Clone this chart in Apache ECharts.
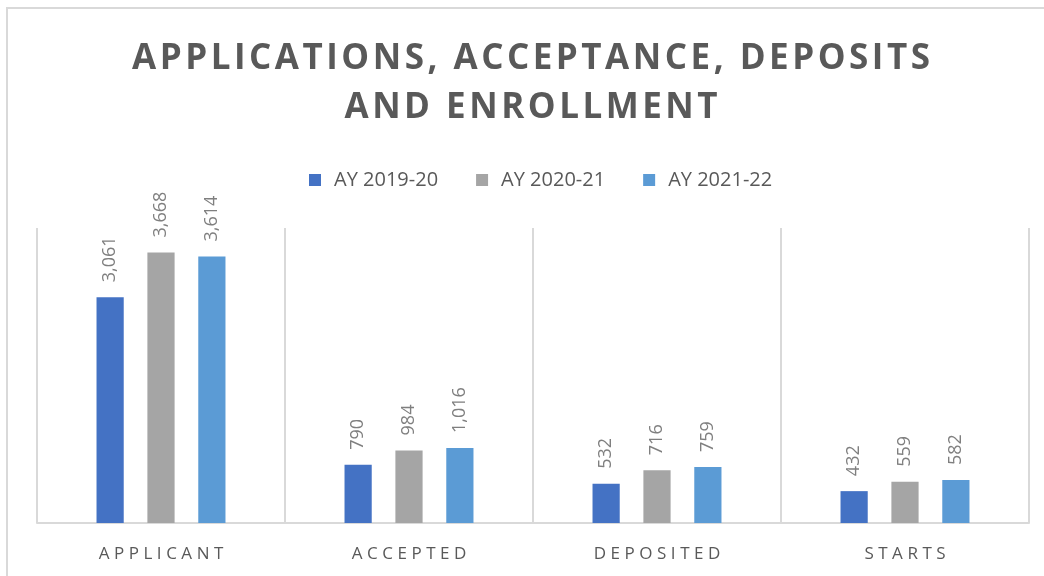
<!DOCTYPE html>
<html>
<head>
<meta charset="utf-8">
<script src="https://cdn.jsdelivr.net/npm/echarts@6/dist/echarts.min.js"></script>
<style>
  html, body { margin: 0; padding: 0; background: #fff; }
  #chart { width: 1044px; height: 576px; }
</style>
</head>
<body>
<div id="chart"></div>
<script>
const titleLines = ['APPLICATIONS, ACCEPTANCE, DEPOSITS', 'AND ENROLLMENT'];
const categories = ['APPLICANT', 'ACCEPTED', 'DEPOSITED', 'STARTS'];
const seriesNames = ['AY 2019-20', 'AY 2020-21', 'AY 2021-22'];
const ay1920 = [3061, 790, 532, 432];
const ay2021 = [3668, 984, 716, 559];
const ay2122 = [3614, 1016, 759, 582];
const colors = ['#4472C4', '#A5A5A5', '#5B9BD5'];

// canvas text has no letter-spacing, so pad letters with thin spaces
const spaced = (s, sp) => s.split('').join(sp);

const chart = echarts.init(document.getElementById('chart'));

function makeSeries(name, data, color) {
  return {
    name, type: 'bar', data,
    barGap: '87%', barCategoryGap: '48%',
    itemStyle: { color },
    label: {
      show: true, position: 'top', rotate: 90, distance: 15,
      align: 'left', verticalAlign: 'middle',
      color: '#7f7f7f', fontSize: 18, fontFamily: 'Open Sans',
      formatter: p => p.value.toLocaleString('en-US'),
    },
  };
}

chart.setOption({
  animation: false,
  color: colors,
  title: {
    text: titleLines.map(l => spaced(l, '\u200A')).join('\n'),
    left: 526, top: 30, textAlign: 'center',
    textStyle: { color: '#595959', fontSize: 35, fontWeight: 'bold', fontFamily: 'Open Sans', lineHeight: 49 },
  },
  legend: {
    top: 165, left: 304, itemGap: 38,
    icon: 'rect', itemWidth: 12, itemHeight: 12,
    textStyle: { color: '#595959', fontSize: 20, fontFamily: 'Open Sans', padding: [0, 0, 0, 8] },
    data: seriesNames,
  },
  grid: { left: 37, right: 15, top: 228, bottom: 53 },
  xAxis: {
    type: 'category', data: categories,
    axisLine: { lineStyle: { color: '#d9d9d9', width: 2 } },
    axisTick: { show: false },
    splitLine: { show: true, lineStyle: { color: '#d9d9d9', width: 2 } },
    axisLabel: {
      margin: 23, color: '#595959', fontSize: 17, fontFamily: 'Open Sans',
      formatter: v => spaced(v, '\u2009\u200A'),
    },
  },
  yAxis: {
    type: 'value', min: 0, max: 4000, show: false,
    splitLine: { show: false },
  },
  graphic: [{
    type: 'rect', shape: { x: 7, y: 8, width: 1200, height: 800 },
    style: { fill: null, stroke: '#d9d9d9', lineWidth: 2 }, silent: true,
  }],
  series: [
    makeSeries(seriesNames[0], ay1920, colors[0]),
    makeSeries(seriesNames[1], ay2021, colors[1]),
    makeSeries(seriesNames[2], ay2122, colors[2]),
  ],
});
</script>
</body>
</html>
